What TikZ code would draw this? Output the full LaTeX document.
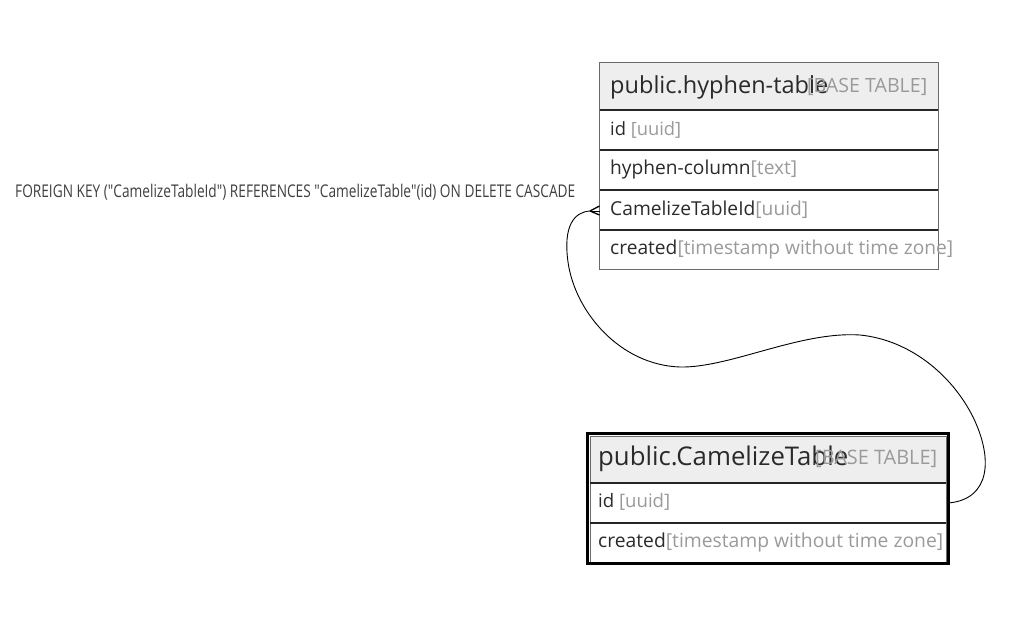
\documentclass[tikz,border=0pt]{standalone}
\usepackage{fontspec}
\usepackage{graphicx}
\usetikzlibrary{calc}
\newfontfamily\tblfont{Open Sans}
\definecolor{txtc}{HTML}{2A2A2A}
\definecolor{typc}{HTML}{9A9A9A}
\definecolor{hdrfill}{HTML}{EEEEEE}
\definecolor{bordc}{HTML}{6A6A6A}
\newcommand\fitw[2]{\resizebox{#1pt}{!}{#2}}
\tikzset{
  cellbox/.style={draw=bordc, line width=1pt, inner sep=0pt, outer sep=0pt, anchor=north west},
  hdrbox/.style={cellbox, fill=hdrfill},
  sepline/.style={draw=black!85, line width=1.6pt},
  celltext/.style={anchor=west, inner sep=0pt, font=\tblfont},
  conn/.style={draw=black, line width=0.9pt},
}
\begin{document}
\begin{tikzpicture}[x=1pt, y=-1pt]
\useasboundingbox (0,0) rectangle (1014,629);

% ---------- public.hyphen-table ----------
\node[hdrbox, minimum width=338.5pt, minimum height=48pt] (ht) at (599.5,62) {};
\node[cellbox, minimum width=338.5pt, minimum height=40pt] (h1) at (599.5,110) {};
\node[cellbox, minimum width=338.5pt, minimum height=40pt] (h2) at (599.5,150) {};
\node[cellbox, minimum width=338.5pt, minimum height=40pt] (h3) at (599.5,190) {};
\node[cellbox, minimum width=338.5pt, minimum height=39pt] (h4) at (599.5,230) {};
\draw[sepline] (h1.north west) -- (h1.north east);
\draw[sepline] (h2.north west) -- (h2.north east);
\draw[sepline] (h3.north west) -- (h3.north east);
\draw[sepline] (h4.north west) -- (h4.north east);

\node[celltext] (htt) at (610,87) {\fitw{218}{\color{txtc}public.hyphen-table}};
\node[celltext] (htb) at (807,87) {\fitw{120}{\color{typc}[BASE TABLE]}};
\node[celltext] (h1t) at (610,130) {\fitw{71}{\color{txtc}id \color{typc}[uuid]}};
\node[celltext] (h2t) at (610,170) {\fitw{187}{\color{txtc}hyphen-column\color{typc}[text]}};
\node[celltext] (h3t) at (610,210) {\fitw{198}{\color{txtc}CamelizeTableId\color{typc}[uuid]}};
\node[celltext] (h4t) at (610,249.5) {\fitw{343}{\color{txtc}created\color{typc}[timestamp without time zone]}};

% ---------- public.CamelizeTable ----------
\node[hdrbox, minimum width=356pt, minimum height=47pt] (cth) at (590,436) {};
\node[cellbox, minimum width=356pt, minimum height=40pt] (c1) at (590,483) {};
\node[cellbox, minimum width=356pt, minimum height=39pt] (c2) at (590,523) {};
\draw[sepline] (c1.north west) -- (c1.north east);
\draw[sepline] (c2.north west) -- (c2.north east);
\node[draw=black, line width=3pt, inner sep=0pt, outer sep=0pt, anchor=north west,
      minimum width=361pt, minimum height=130pt] (cto) at (587.5,433.5) {};

\node[celltext] (ctt) at (598,459) {\fitw{250}{\color{txtc}public.CamelizeTable}};
\node[celltext] (ctb) at (815,459) {\fitw{122}{\color{typc}[BASE TABLE]}};
\node[celltext] (c1t) at (598,502) {\fitw{72}{\color{txtc}id \color{typc}[uuid]}};
\node[celltext] (c2t) at (598,542) {\fitw{345}{\color{txtc}created\color{typc}[timestamp without time zone]}};

% ---------- foreign key connector ----------
\coordinate (tip) at ($(h3.west)+(-9.5,1)$);
\draw[conn] (c1.east -| cto.east)
   .. controls (991,499) and (993,458) .. (973,417)
   .. controls (952,375) and (910,340) .. (860,335)
   .. controls (800,331) and (730,368) .. (680,367)
   .. controls (620,365) and (575,312) .. (568,262)
   .. controls (563,226) and (574,212) .. (tip);
\draw[conn, line width=1.3pt] (tip) -- ($(h3.west)+(0,-4)$);
\draw[conn, line width=1.3pt] (tip) -- ($(h3.west)+(0,5)$);
\draw[conn, line width=0.6pt] (tip) -- ($(h3.west)+(0,1)$);

\node[anchor=west, inner sep=0pt, font=\tblfont] (fk) at (15,192)
  {\resizebox{560pt}{!}{\scalebox{0.78}[1]{\color{txtc!90}FOREIGN KEY ("CamelizeTableId") REFERENCES "CamelizeTable"(id) ON DELETE CASCADE}}};
\end{tikzpicture}
\end{document}
